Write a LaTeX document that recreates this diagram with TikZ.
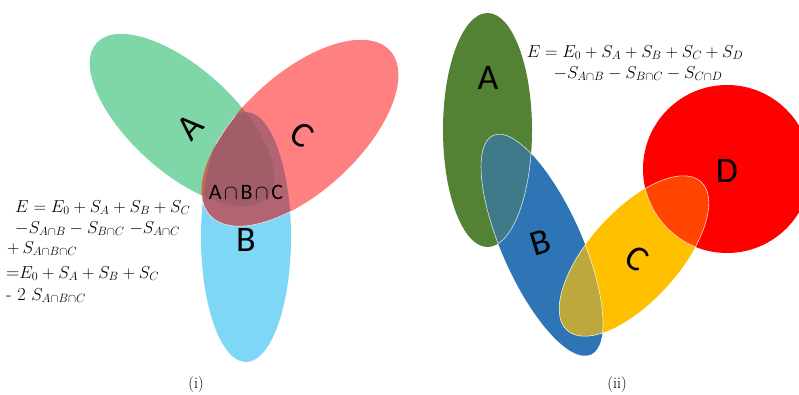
\documentclass[tikz,border=0pt]{standalone}
\usepackage{fontspec}
\newfontfamily\labfont{Carlito}
\definecolor{lgreen}{RGB}{127,215,167}
\definecolor{lblue}{RGB}{127,215,247}
\definecolor{lred}{RGB}{255,128,128}
\definecolor{lorange}{RGB}{191,108,84}
\definecolor{lmauveA}{RGB}{178,100,114}
\definecolor{lmauveB}{RGB}{162,94,104}
\definecolor{dA}{HTML}{548235}
\definecolor{dB}{HTML}{2E75B6}
\definecolor{dC}{HTML}{FFC000}
\definecolor{dD}{HTML}{FF0000}
\definecolor{dAB}{HTML}{3E7A8A}
\definecolor{dBC}{HTML}{BCA83D}
\definecolor{dCD}{HTML}{FF4500}
\begin{document}
\begin{tikzpicture}[x=1pt,y=-1pt,
  lab/.style={font=\labfont\fontsize{36}{36}\selectfont, inner sep=0pt},
  eq/.style={font=\fontsize{18.4}{20}\selectfont, inner sep=0pt, anchor=base west},
  eqc/.style={font=\fontsize{18.4}{20}\selectfont, inner sep=0pt, anchor=base},
  captxt/.style={font=\fontsize{16}{16}\selectfont, inner sep=0pt, anchor=base},
  rim/.style={draw=white, line width=0.6pt, draw opacity=0.8}
]
\useasboundingbox (0,0) rectangle (799,394);
\clip (0,0) rectangle (799,394);

% ---------- (i) ----------
\fill[lblue] (246,237) ellipse [x radius=45pt, y radius=125pt];
\fill[lgreen] (182,120) ellipse [x radius=115pt, y radius=52pt, rotate=-42];
\fill[lred] (300,133) ellipse [x radius=122pt, y radius=59pt, rotate=42.5];
\begin{scope}
  \clip (300,133) ellipse [x radius=122pt, y radius=59pt, rotate=42.5];
  \fill[lorange] (182,120) ellipse [x radius=115pt, y radius=52pt, rotate=-42];
  \fill[lmauveA] (246,237) ellipse [x radius=45pt, y radius=125pt];
  \clip (182,120) ellipse [x radius=115pt, y radius=52pt, rotate=-42];
  \fill[lmauveB] (246,237) ellipse [x radius=45pt, y radius=125pt];
\end{scope}
\begin{scope}
  \clip (246,237) ellipse [x radius=45pt, y radius=125pt];
  \draw[rim] (300,133) ellipse [x radius=122pt, y radius=59pt, rotate=42.5];
\end{scope}

\node[lab, rotate=47] (la) at (190,127) {A};
\node[lab, rotate=-36] (lc) at (302,135) {C};
\node[lab] (lb) at (246,240) {B};
\node[font=\labfont\fontsize{22}{22}\selectfont, inner sep=0pt] (labc) at (246,192)
  {A\kern2.5pt$\cap$\kern2.5pt B\kern2.5pt$\cap$\kern2.5pt C};

\node[eq] (e1) at (15,212) {$E = E_0 + S_A + S_B + S_C$};
\node[eq] (e2) at (15,233) {$-S_{A\cap B} - S_{B\cap C}\;{-S_{A\cap C}}$};
\node[eq] (e3) at (7,253) {$+\, S_{A\cap B\cap C}$};
\node[eq] (e4) at (6,278) {=$E_0 + S_A + S_B + S_C$};
\node[eq] (e5) at (6,300) {- 2 $S_{A\cap B\cap C}$};

\node[captxt] (ci) at (196,388) {(i)};

% ---------- (ii) ----------
\fill[dA] (487.5,130) ellipse [x radius=44.5pt, y radius=117pt];
\fill[dB] (542,245) ellipse [x radius=40pt, y radius=120pt, rotate=24];
\fill[dC] (634,256) ellipse [x radius=100pt, y radius=45pt, rotate=48];
\fill[dD] (727,169) circle [radius=84pt];

% A cap B
\begin{scope}
  \clip (487.5,130) ellipse [x radius=44.5pt, y radius=117pt];
  \fill[dAB] (542,245) ellipse [x radius=40pt, y radius=120pt, rotate=24];
  \draw[rim] (542,245) ellipse [x radius=40pt, y radius=120pt, rotate=24];
\end{scope}
\begin{scope}
  \clip (542,245) ellipse [x radius=40pt, y radius=120pt, rotate=24];
  \draw[rim] (487.5,130) ellipse [x radius=44.5pt, y radius=117pt];
\end{scope}
% B cap C
\begin{scope}
  \clip (542,245) ellipse [x radius=40pt, y radius=120pt, rotate=24];
  \fill[dBC] (634,256) ellipse [x radius=100pt, y radius=45pt, rotate=48];
  \draw[rim] (634,256) ellipse [x radius=100pt, y radius=45pt, rotate=48];
\end{scope}
\begin{scope}
  \clip (634,256) ellipse [x radius=100pt, y radius=45pt, rotate=48];
  \draw[rim] (542,245) ellipse [x radius=40pt, y radius=120pt, rotate=24];
\end{scope}
% C cap D
\begin{scope}
  \clip (727,169) circle [radius=84pt];
  \fill[dCD] (634,256) ellipse [x radius=100pt, y radius=45pt, rotate=48];
  \draw[rim] (634,256) ellipse [x radius=100pt, y radius=45pt, rotate=48];
\end{scope}
\begin{scope}
  \clip (634,256) ellipse [x radius=100pt, y radius=45pt, rotate=48];
  \draw[rim] (727,169) circle [radius=84pt];
\end{scope}

\node[lab] (ra) at (488,78) {A};
\node[lab, rotate=17] (rb) at (540,243) {B};
\node[lab, rotate=-35] (rc) at (637,259) {C};
\node[lab] (rd) at (727,171) {D};

\node[eqc] (f1) at (635,57) {$E = E_0 + S_A + S_B + S_C + S_D$};
\node[eqc] (f2) at (638,78) {$-S_{A\cap B} - S_{B\cap C} - S_{C\cap D}$};

\node[captxt] (cii) at (617,388) {(ii)};
\end{tikzpicture}
\end{document}
